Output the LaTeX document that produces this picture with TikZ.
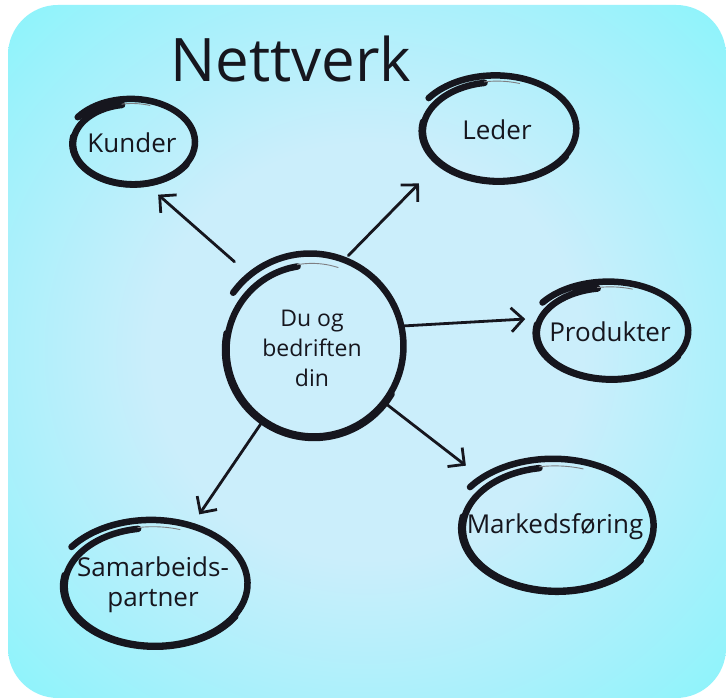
\documentclass[tikz,border=0pt]{standalone}
\usepackage{fontspec}
\setmainfont{Open Sans}
\usetikzlibrary{shapes.geometric}
\usetikzlibrary{arrows.meta, positioning}
\usepackage{xcolor}
\definecolor{bgCore}{RGB}{203, 238, 251}
\definecolor{bgMid}{RGB}{172, 240, 251}
\definecolor{bgRim}{RGB}{138, 244, 251}
\definecolor{inkColor}{RGB}{22, 22, 30}
\pgfdeclareradialshading{cardglow}{\pgfpoint{0bp}{0bp}}{%
    color(0bp)=(bgCore); color(15bp)=(bgCore); color(25bp)=(bgMid);
    color(36bp)=(bgRim); color(50bp)=(bgRim)}
\tikzset{
    bubble/.style={ellipse, inner sep=0pt, text=inkColor, font=\fontsize{26}{30}\selectfont},
    brush/.style={draw=inkColor, line width=6.5pt, line cap=round, line join=round},
    heavy/.style={draw=inkColor, line width=5pt, line cap=round},
    feather/.style={draw=inkColor!55, line width=0.9pt, line cap=round}
}
% hand drawn ring round a node: node, x radius, y radius
\newcommand\ringaround[3]{%
    \draw[brush, shift={(#1.center)}] plot[smooth, domain=100:505, samples=72]
        ({#2*(0.92+0.15*(\x-100)/405)*cos(\x)}, {#3*(0.92+0.15*(\x-100)/405)*sin(\x)});
    \draw[heavy, shift={(#1.center)}] plot[smooth, domain=170:330, samples=30]
        ({#2*(0.945+0.15*(\x-100)/405)*cos(\x)}, {#3*(0.945+0.15*(\x-100)/405)*sin(\x)});
    \draw[feather, shift={(#1.center)}] plot[smooth, domain=72:100, samples=8]
        ({#2*0.94*cos(\x)}, {#3*0.94*sin(\x)});
}

\begin{document}
\begin{tikzpicture}[x=1pt, y=1pt,
    link/.style={draw=inkColor, line width=2.8pt, line cap=round,
                 -{Straight Barb[length=12pt, width=24pt]}}]
    % Draw the background card
    \useasboundingbox (0,0) rectangle (726,698);
    \fill[white] (0,0) rectangle (726,698);
    \shade[rounded corners=50pt, shading=cardglow] (8,0) rectangle (726,693);

    \node[text=inkColor, font=\fontsize{60}{64}\selectfont, anchor=base] (title) at (291,616) {Nettverk};

    \node[circle, inner sep=0pt, minimum size=180pt, text=inkColor, align=center,
          font=\fontsize{23}{30}\selectfont] (hub) at (312,350) {Du og\\bedriften\\din};
    \node[bubble, minimum width=124pt, minimum height=84pt] (kunder) at (132,555) {Kunder};
    \node[bubble, minimum width=156pt, minimum height=104pt] (leder) at (497,568) {Leder};
    \node[bubble, minimum width=154pt, minimum height=96pt] (produkter) at (610,366) {Produkter};
    \node[bubble, minimum width=194pt, minimum height=130pt] (marked) at (555,171) {Markedsføring};
    \node[bubble, minimum width=186pt, minimum height=124pt, align=center,
          font=\fontsize{26}{30}\selectfont] (partner) at (153,113) {Samarbeids-\\partner};

    % Draw the rings
    \ringaround{hub}{90}{90}
    \ringaround{kunder}{62}{42}
    \ringaround{leder}{78}{52}
    \ringaround{produkter}{77}{48}
    \ringaround{marked}{97}{65}
    \ringaround{partner}{93}{62}

    % Draw the arrows out from the middle
    \draw[link, shorten <=26pt, shorten >=16pt] (hub.130) -- (kunder.289);
    \draw[link, shorten <=10pt, shorten >=27pt] (hub.71) -- (leder.210);
    \draw[link, shorten >=2pt] (hub.14) -- (produkter.171);
    \draw[link, shorten >=16pt] (hub.323) -- (marked.146);
    \draw[link, shorten >=15pt] (hub.236) -- (partner.57);
\end{tikzpicture}
\end{document}
